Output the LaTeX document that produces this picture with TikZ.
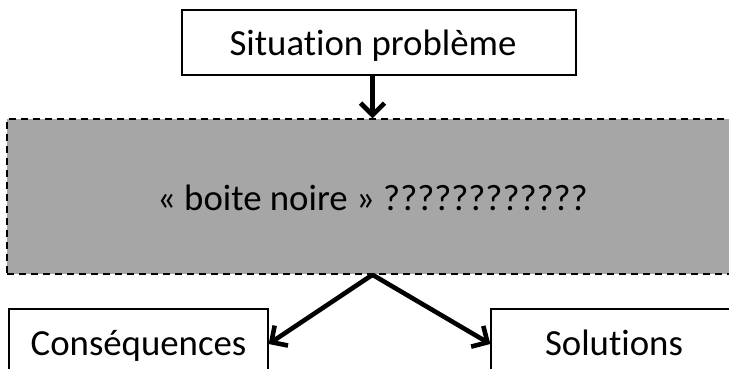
\documentclass[tikz,border=0pt]{standalone}
\usepackage{fontspec}
\setmainfont{Carlito}[Ligatures={NoCommon}]
\usetikzlibrary{arrows.meta}
\definecolor{boxgray}{HTML}{A6A6A6}
\begin{document}
\begin{tikzpicture}[x=1pt,y=-1pt,
  plainbox/.style={draw=black,line width=1.3pt,fill=white,inner sep=0pt},
  blackbox/.style={draw=black,line width=1.5pt,dash pattern=on 7pt off 5pt,fill=boxgray,inner sep=0pt},
  label/.style={anchor=base,inner sep=0pt,font=\fontsize{36.8}{40}\selectfont},
  flow/.style={line width=4.6pt,-{Straight Barb[length=12pt,width=24pt,line width=4.6pt]}}]
\useasboundingbox (0,0) rectangle (729,368);
\clip (0,0) rectangle (729,368);
\node[blackbox,minimum width=731pt,minimum height=155pt] (bn) at (372.5,196.5) {};
\node[label] (bnt) at (372.5,210) {« boite noire » ????????????};
\node[plainbox,minimum width=394pt,minimum height=65pt] (sp) at (379,42.5) {};
\node[label] (spt) at (373,55) {Situation problème};
\node[plainbox,minimum width=259pt,minimum height=66pt] (cq) at (138.5,342) {};
\node[label] (cqt) at (138.5,355) {Conséquences};
\node[plainbox,minimum width=246pt,minimum height=66pt] (so) at (614,342) {};
\node[label] (sot) at (614,355) {Solutions};
\draw[flow] (sp.south -| bn.north) -- (bn.north);
\draw[flow] (bn.south) -- ([yshift=-2pt]cq.east);
\draw[flow] (bn.south) -- ([yshift=-2pt]so.west);
\end{tikzpicture}
\end{document}
